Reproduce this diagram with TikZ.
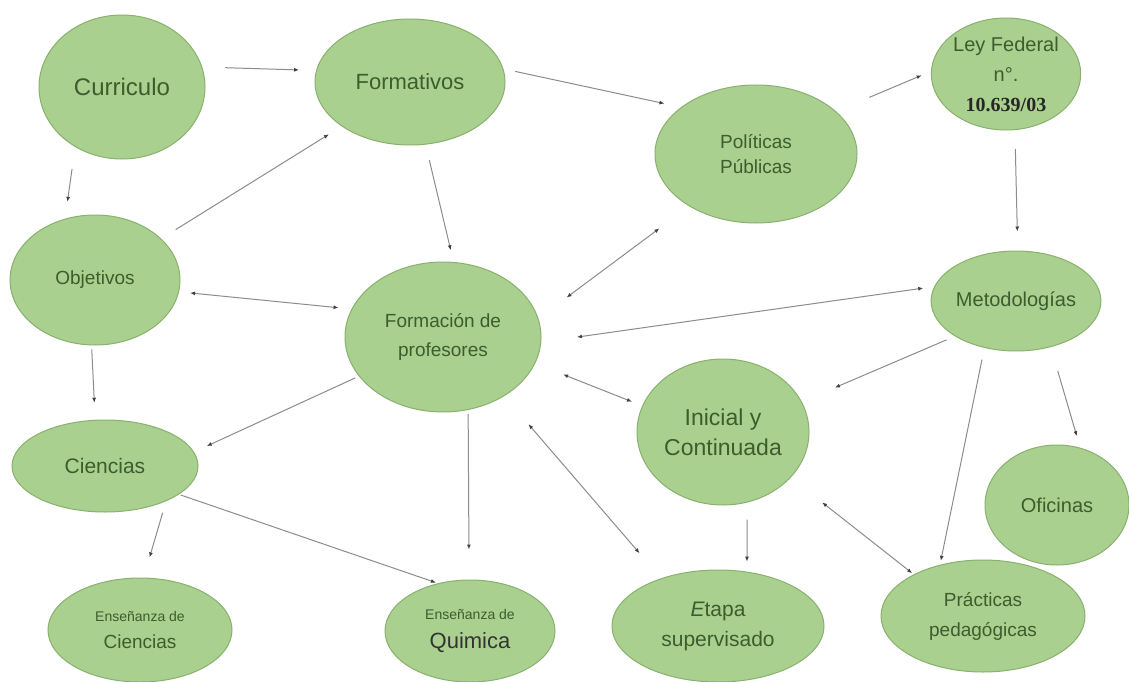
\documentclass[tikz,border=0pt]{standalone}
\usepackage{fontspec}
\setmainfont{Liberation Sans}
\newfontfamily\lawfont{Liberation Serif}
\usetikzlibrary{shapes.geometric,arrows.meta}
\definecolor{leaf}{RGB}{169,208,142}
\definecolor{leafline}{RGB}{138,176,110}
\definecolor{leaftext}{RGB}{62,92,46}
\definecolor{linkgray}{RGB}{140,140,140}
\newcommand{\fsz}[2]{\fontsize{#1}{#2}\selectfont}
\tikzset{
  bubble/.style={ellipse, draw=leafline, line width=1pt, fill=leaf,
    inner sep=0pt, text=leaftext, align=center},
  link/.style={draw=linkgray, line width=1pt,
    -{Latex[length=5pt,width=4pt,color=black!75]}},
  twoway/.style={draw=linkgray, line width=1pt,
    {Latex[length=5pt,width=4pt,color=black!75]}-{Latex[length=5pt,width=4pt,color=black!75]}}
}

\begin{document}
\begin{tikzpicture}[x=1pt, y=-1pt]
          \fill [white] (0,0) rectangle (1129,682);
          \useasboundingbox (0,0) rectangle (1129,682);
          \node [bubble, minimum width=166pt, minimum height=144pt, font=\fsz{24}{28}] (cur) at (122,87) {Curriculo};
          \node [bubble, minimum width=190pt, minimum height=126pt, font=\fsz{22}{26}] (fmt) at (410,82) {Formativos};
          \node [bubble, minimum width=202pt, minimum height=138pt, font=\fsz{19}{25}] (pol) at (756,154) {Políticas\\Públicas};
          \node [bubble, minimum width=142pt, minimum height=112pt, font=\fsz{20}{30}] (ley) at (1006,74) {Ley Federal\\n°.\\{\lawfont\bfseries\color{black!85}10.639/03}};
          \node [bubble, minimum width=170pt, minimum height=130pt, font=\fsz{19}{23}] (obj) at (95,280) {Objetivos};
          \node [bubble, minimum width=196pt, minimum height=150pt, font=\fsz{19}{29}] (fp) at (443,337) {Formación de\\profesores};
          \node [bubble, minimum width=168pt, minimum height=100pt, font=\fsz{20}{24}] (met) at (1016,301) {Metodologías};
          \node [bubble, minimum width=172pt, minimum height=146pt, font=\fsz{23}{30}] (ini) at (723,432) {Inicial y\\Continuada};
          \node [bubble, minimum width=186pt, minimum height=92pt, font=\fsz{21}{25}] (cie) at (105,466) {Ciencias};
          \node [bubble, minimum width=144pt, minimum height=120pt, font=\fsz{20}{24}] (ofi) at (1057,505) {Oficinas};
          \node [bubble, minimum width=184pt, minimum height=104pt, font=\fsz{19}{27}] (ec) at (140,630) {{\fsz{14}{27}Enseñanza de}\\Ciencias};
          \node [bubble, minimum width=170pt, minimum height=102pt, font=\fsz{22}{29}] (qui) at (470,631) {{\fsz{14}{29}Enseñanza de}\\{\color{black!80}Quimica}};
          \node [bubble, minimum width=212pt, minimum height=112pt, font=\fsz{21}{30}] (eta) at (718,626) {{\itshape E}tapa\\supervisado};
          \node [bubble, minimum width=204pt, minimum height=112pt, font=\fsz{19}{30}] (pra) at (983,616) {Prácticas\\pedagógicas};
          \draw [link, shorten <=23pt, shorten >=17pt] (cur.14) -- (fmt.173);
          \draw [link, shorten <=22pt, shorten >=17pt] (cur.232) -- (obj.116);
          \draw [link, shorten <=17pt, shorten >=15pt] (obj.32) -- (fmt.213);
          \draw [link, shorten <=16pt, shorten >=12pt] (fmt.-76) -- (fp.82);
          \draw [twoway, shorten <=11pt, shorten >=13pt] (obj.-8) -- (fp.163);
          \draw [link, shorten <=12pt, shorten >=17pt] (fmt.8) -- (pol.148);
          \draw [link, shorten <=36pt, shorten >=10pt] (pol.28) -- (ley.178);
          \draw [link, shorten <=19pt, shorten >=19pt] (ley.-81) -- (met.88);
          \draw [twoway, shorten <=35pt, shorten >=37pt] (fp.11) -- (pol.218);
          \draw [twoway, shorten <=11pt, shorten >=36pt] (met.170) -- (fp.-3);
          \draw [link, shorten <=9pt, shorten >=36pt] (met.210) -- (ini.21);
          \draw [twoway, shorten <=30pt, shorten >=11pt] (fp.-16) -- (ini.162);
          \draw [link, shorten <=4pt, shorten >=14pt] (fp.205) -- (cie.9);
          \draw [link, shorten <=4pt, shorten >=17pt] (obj.-93) -- (cie.102);
          \draw [link, shorten <=4pt, shorten >=30pt] (fp.-71) -- (qui.91);
          \draw [link, shorten <=12pt, shorten >=21pt] (cie.-30) -- (ec.86);
          \draw [link, shorten <=2pt, shorten >=2pt] (cie.-21) -- (qui.124);
          \draw [twoway, shorten <=37pt, shorten >=33pt] (fp.-44) -- (eta.140);
          \draw [link, shorten <=17pt, shorten >=10pt] (ini.-71) -- (eta.62);
          \draw [twoway, shorten <=40pt, shorten >=2pt] (ini.-34) -- (pra.149);
          \draw [link, shorten <=12pt, shorten >=4pt] (met.-124) -- (pra.130);
          \draw [link, shorten <=25pt, shorten >=12pt] (met.-53) -- (ofi.68);
        \end{tikzpicture}
\end{document}
